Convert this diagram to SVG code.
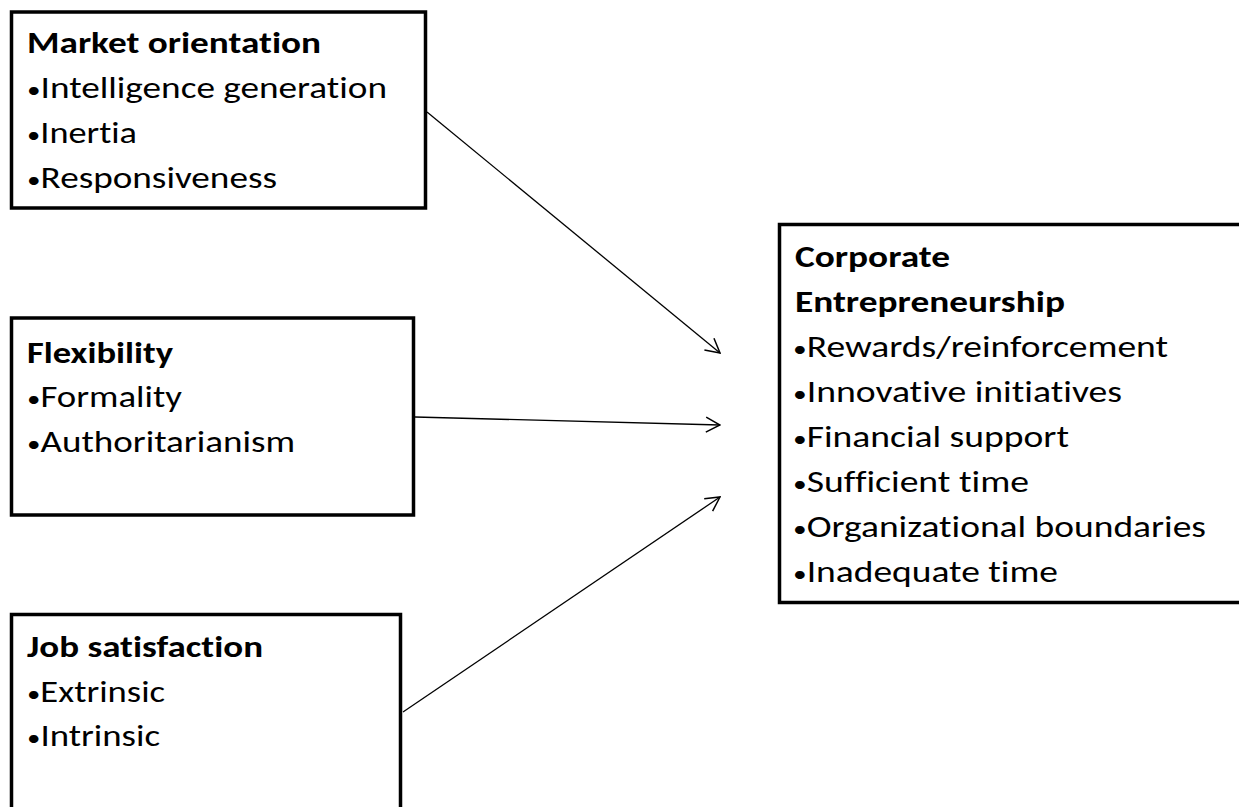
<svg xmlns="http://www.w3.org/2000/svg" width="1239" height="807" viewBox="0 0 1239 807">
<style>
.box{fill:#fff;stroke:#000;stroke-width:3.5}
.t{font-family:Carlito,Calibri,Lato,"Open Sans",sans-serif;font-size:30px;fill:#000;font-variant-ligatures:none}
.b{font-weight:bold}
.bu{font-size:22px}
.c{stroke:#000;stroke-width:1.3;fill:none}
</style>
<defs>
<marker id="arr" markerUnits="userSpaceOnUse" markerWidth="16" markerHeight="17" refX="14" refY="7.5" orient="auto" viewBox="-1 -1 16 17">
<path d="M0,0 L14,7.5 L0,15" fill="none" stroke="#000" stroke-width="1.5"/>
</marker>
</defs>
<rect width="1239" height="807" fill="#fff"/>
<g id="connectors">
<line class="c" x1="427" y1="112" x2="720" y2="353" marker-end="url(#arr)"/>
<line class="c" x1="415" y1="417" x2="720" y2="425" marker-end="url(#arr)"/>
<line class="c" x1="403" y1="712" x2="720" y2="497" marker-end="url(#arr)"/>
</g>
<g id="market-orientation">
<rect class="box" x="11.5" y="12" width="414" height="196"/>
<text class="t b" x="27" y="53" textLength="294" lengthAdjust="spacingAndGlyphs">Market orientation</text>
<text class="t" x="27" y="98" textLength="360" lengthAdjust="spacingAndGlyphs"><tspan class="bu">•</tspan>Intelligence generation</text>
<text class="t" x="27" y="143" textLength="110" lengthAdjust="spacingAndGlyphs"><tspan class="bu">•</tspan>Inertia</text>
<text class="t" x="27" y="188" textLength="250" lengthAdjust="spacingAndGlyphs"><tspan class="bu">•</tspan>Responsiveness</text>
</g>
<g id="flexibility">
<rect class="box" x="11.5" y="318" width="402" height="197"/>
<text class="t b" x="27" y="363" textLength="146" lengthAdjust="spacingAndGlyphs">Flexibility</text>
<text class="t" x="27" y="407" textLength="155" lengthAdjust="spacingAndGlyphs"><tspan class="bu">•</tspan>Formality</text>
<text class="t" x="27" y="452" textLength="268" lengthAdjust="spacingAndGlyphs"><tspan class="bu">•</tspan>Authoritarianism</text>
</g>
<g id="job-satisfaction">
<rect class="box" x="11.5" y="614.5" width="389" height="220"/>
<text class="t b" x="27" y="657" textLength="236" lengthAdjust="spacingAndGlyphs">Job satisfaction</text>
<text class="t" x="27" y="702" textLength="138" lengthAdjust="spacingAndGlyphs"><tspan class="bu">•</tspan>Extrinsic</text>
<text class="t" x="27" y="746" textLength="133" lengthAdjust="spacingAndGlyphs"><tspan class="bu">•</tspan>Intrinsic</text>
</g>
<g id="corporate-entrepreneurship">
<rect class="box" x="779.5" y="224.5" width="500" height="378"/>
<text class="t b" x="795" y="267" textLength="155" lengthAdjust="spacingAndGlyphs">Corporate</text>
<text class="t b" x="795" y="312" textLength="270" lengthAdjust="spacingAndGlyphs">Entrepreneurship</text>
<text class="t" x="793" y="357" textLength="375" lengthAdjust="spacingAndGlyphs"><tspan class="bu">•</tspan>Rewards/reinforcement</text>
<text class="t" x="793" y="402" textLength="329" lengthAdjust="spacingAndGlyphs"><tspan class="bu">•</tspan>Innovative initiatives</text>
<text class="t" x="793" y="447" textLength="276" lengthAdjust="spacingAndGlyphs"><tspan class="bu">•</tspan>Financial support</text>
<text class="t" x="793" y="492" textLength="236" lengthAdjust="spacingAndGlyphs"><tspan class="bu">•</tspan>Sufficient time</text>
<text class="t" x="793" y="537" textLength="413" lengthAdjust="spacingAndGlyphs"><tspan class="bu">•</tspan>Organizational boundaries</text>
<text class="t" x="793" y="582" textLength="265" lengthAdjust="spacingAndGlyphs"><tspan class="bu">•</tspan>Inadequate time</text>
</g>
</svg>
